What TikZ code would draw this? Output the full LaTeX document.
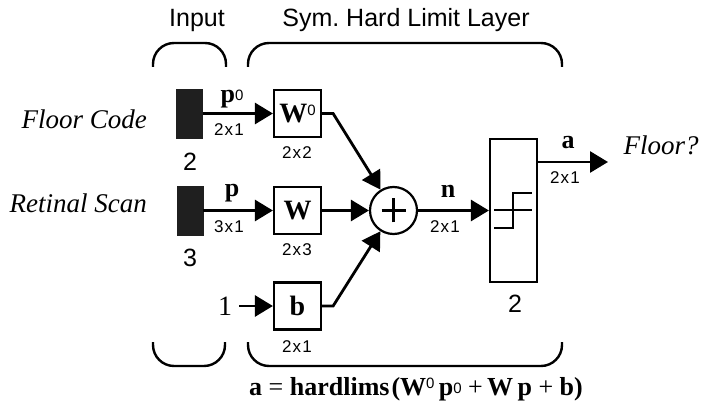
\documentclass[tikz,border=0pt]{standalone}
\usepackage{fontspec}
\setmainfont{Liberation Serif}
\setsansfont{Liberation Sans}
\usetikzlibrary{arrows.meta}
\frenchspacing
\newcommand{\fsz}[1]{\fontsize{#1}{#1}\selectfont}
\newcommand{\rc}[2]{#1\kern1.2pt x\kern1.2pt #2}
\newcommand{\zsup}[1]{\raisebox{#1}{\fontseries{m}\fontsize{15}{15}\selectfont\sffamily 0}}
\begin{document}
\begin{tikzpicture}[x=1pt,y=-1pt,
  conn/.style={line width=2.8pt,-{Triangle[length=18pt,width=21pt]}},
  brace/.style={line width=2.4pt,rounded corners=21pt},
  wbox/.style={draw,line width=2.2pt,minimum width=47pt,minimum height=47pt,inner sep=0pt,font=\fsz{28}\bfseries},
  inbox/.style={fill=black!88,draw=black!88,minimum width=26pt,minimum height=49pt,inner sep=0pt},
  dimlab/.style={font=\fsz{17}\sffamily,inner sep=0pt},
  sflab/.style={font=\fsz{25}\sffamily,inner sep=0pt},
  itlab/.style={font=\fsz{27}\itshape,inner sep=0pt},
  bflab/.style={font=\fsz{26}\bfseries,inner sep=0pt}]
\useasboundingbox (0,0) rectangle (706,403);
% headings
\node[sflab,anchor=base] (tin) at (197,27) {Input};
\node[sflab,anchor=base] (tly) at (406,27) {Sym. Hard Limit Layer};
% braces
\draw[brace] (153,67) -- (153,43) -- (226,43) -- (226,67);
\draw[brace] (248,67) -- (248,43) -- (562,43) -- (562,67);
\draw[brace] (153,342) -- (153,366) -- (225,366) -- (225,342);
\draw[brace] (248,342) -- (248,366) -- (562,366) -- (562,342);
% inputs
\node[inbox] (in0) at (189.5,113.5) {};
\node[inbox] (in1) at (190,210.5) {};
\node[itlab,anchor=base east] (fc) at (147,129) {Floor Code};
\node[itlab,anchor=base east] (rs) at (147,213) {Retinal Scan};
\node[sflab] (n2) at (190,162) {2};
\node[sflab] (n3) at (190,258) {3};
% weight boxes
\node[wbox] (W0) at (297.5,113.5) {W\zsup{7pt}};
\node[wbox] (W) at (297.5,210.5) {W};
\node[wbox] (b) at (297.5,306) {b};
\node[font=\fsz{28},inner sep=0pt] (one) at (225,306) {1};
% sum
\node[draw,circle,line width=2.2pt,minimum size=47pt,inner sep=0pt] (sum) at (393.5,210.5) {};
\draw[line width=2.2pt] ([xshift=-12pt]sum.center) -- ([xshift=12pt]sum.center)
  ([yshift=-12pt]sum.center) -- ([yshift=12pt]sum.center);
% hardlim box
\node[draw,line width=2.2pt,minimum width=47pt,minimum height=143pt,inner sep=0pt] (hl) at (513.5,210.5) {};
\draw[line width=1.3pt] (494,210) -- (532,210);
\draw[line width=2.4pt] (494,228) -- (513,228) -- (513,193) -- (532,193);
\node[sflab] (n2b) at (515,304) {2};
% output
\coordinate (out) at (608,162);
\node[itlab,anchor=base] (fl) at (661,155) {Floor?};
% connectors
\draw[conn] (in0.east) -- (W0.west);
\draw[conn] (in1.east) -- (W.west);
\draw[conn] ([xshift=7pt]one.east) -- (b.west);
\draw[conn] (W0.east) -- ++(11,0) -- (sum);
\draw[conn] (W.east) -- (sum);
\draw[conn] (b.east) -- ++(11,0) -- (sum);
\draw[conn] (sum) -- (hl.west);
\draw[conn] (hl.east |- out) -- (out);
% labels
\node[bflab] (lp0) at (232,99) {p\zsup{2pt}};
\node[dimlab] (d1) at (229,130) {\rc{2}{1}};
\node[dimlab] (d2) at (297,153) {\rc{2}{2}};
\node[bflab] (lp) at (232,193) {p};
\node[dimlab] (d3) at (229,227) {\rc{3}{1}};
\node[dimlab] (d4) at (297,250) {\rc{2}{3}};
\node[dimlab] (d5) at (297,347) {\rc{2}{1}};
\node[bflab] (ln) at (448,191) {n};
\node[dimlab] (d6) at (445,227) {\rc{2}{1}};
\node[bflab] (la) at (568,143) {a};
\node[dimlab] (d7) at (565,178) {\rc{2}{1}};
% equation
\node[bflab,anchor=base] (eq) at (416,395) {a {\fontseries{m}\selectfont=} hardlims\kern2pt(W\zsup{7pt}\,p\zsup{2pt} {\fontseries{m}\selectfont+}\,W\,p {\fontseries{m}\selectfont+} b)};
\end{tikzpicture}
\end{document}
